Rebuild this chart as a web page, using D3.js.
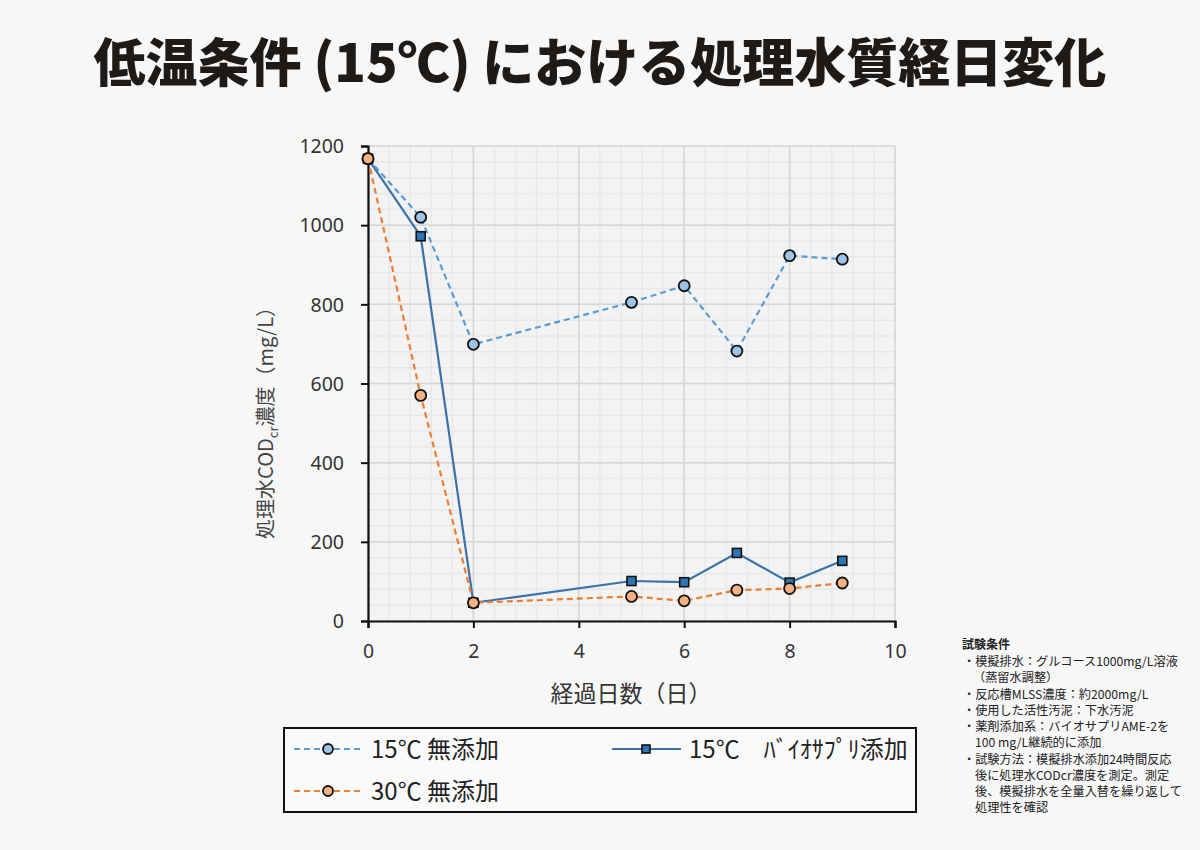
<!DOCTYPE html>
<html>
<head>
<meta charset="utf-8">
<script src="https://cdn.jsdelivr.net/npm/d3@7"></script>
<style>
  html, body { margin: 0; padding: 0; background: #f7f7f7; }
  svg { display: block; }
  text { font-family: "Noto Sans CJK JP", "Noto Sans", sans-serif; }
</style>
</head>
<body>
<div id="chart"></div>
<script>
// data
const days = [0, 1, 2, 5, 6, 7, 8, 9]
const noAdd15 = [1168, 1020, 699, 805, 847, 682, 923, 914]
const bioAdd15 = [1168, 972, 46, 101, 98, 172, 97, 152]
const noAdd30 = [1168, 570, 46, 62, 51, 78, 82, 96]

const xTicks = [0, 2, 4, 6, 8, 10]
const yTicks = [0, 200, 400, 600, 800, 1000, 1200]

const seriesNames = ['15℃ 無添加', '15℃\u3000ﾊﾞｲｵｻﾌﾟﾘ添加', '30℃ 無添加']

const title = '低温条件 (15℃) における処理水質経日変化'
const notes = [
  '試験条件',
  '・模擬排水：グルコース1000mg/L溶液',
  '（蒸留水調整）',
  '・反応槽MLSS濃度：約2000mg/L',
  '・使用した活性汚泥：下水汚泥',
  '・薬剤添加系：バイオサプリAME-2を',
  '100 mg/L継続的に添加',
  '・試験方法：模擬排水添加24時間反応',
  '後に処理水CODcr濃度を測定。測定',
  '後、模擬排水を全量入替を繰り返して',
  '処理性を確認'
]

const width = 1200, height = 850
const plot = {left: 368, right: 895, top: 146, bottom: 621}

const svg = d3.select('#chart').append('svg')
  .attr('width', width)
  .attr('height', height)

svg.append('rect').attr('width', width).attr('height', height).attr('fill', '#f7f7f7')

// title
svg.append('text')
  .attr('x', 600)
  .attr('y', 82)
  .attr('text-anchor', 'middle')
  .attr('font-size', 52)
  .attr('font-weight', 900)
  .attr('fill', '#1e1a18')
  .text(title)

const x = d3.scaleLinear().domain([0, 10]).range([plot.left, plot.right])
const y = d3.scaleLinear().domain([0, 1200]).range([plot.bottom, plot.top])

// plot background
svg.append('rect')
  .attr('x', plot.left).attr('y', plot.top)
  .attr('width', plot.right - plot.left).attr('height', plot.bottom - plot.top)
  .attr('fill', '#f3f3f3')
  .attr('stroke', '#e2e2e2')

const grid = svg.append('g')
// minor grid
grid.selectAll('.vminor').data(d3.range(0, 10.001, 0.4)).enter().append('line')
  .attr('x1', d => x(d)).attr('x2', d => x(d))
  .attr('y1', plot.top).attr('y2', plot.bottom)
  .attr('stroke', '#e8e8e8').attr('stroke-width', 1.5)
grid.selectAll('.hminor').data(d3.range(0, 1200.1, 40)).enter().append('line')
  .attr('y1', d => y(d)).attr('y2', d => y(d))
  .attr('x1', plot.left).attr('x2', plot.right)
  .attr('stroke', '#e8e8e8').attr('stroke-width', 1.5)
// major grid
grid.selectAll('.vmajor').data(xTicks).enter().append('line')
  .attr('x1', d => x(d)).attr('x2', d => x(d))
  .attr('y1', plot.top).attr('y2', plot.bottom)
  .attr('stroke', '#d6d6d6').attr('stroke-width', 1.5)
grid.selectAll('.hmajor').data(yTicks).enter().append('line')
  .attr('y1', d => y(d)).attr('y2', d => y(d))
  .attr('x1', plot.left).attr('x2', plot.right)
  .attr('stroke', '#d6d6d6').attr('stroke-width', 1.5)

// axes
const xAxis = svg.append('g')
  .attr('transform', `translate(0, ${plot.bottom})`)
  .call(d3.axisBottom(x).tickValues(xTicks).tickFormat(d3.format('d')).tickSize(7).tickPadding(16))
const yAxis = svg.append('g')
  .attr('transform', `translate(${plot.left}, 0)`)
  .call(d3.axisLeft(y).tickValues(yTicks).tickFormat(d3.format('d')).tickSize(7).tickPadding(17))
;[xAxis, yAxis].forEach(a => {
  a.select('.domain').attr('stroke', '#111').attr('stroke-width', 2.2)
  a.selectAll('.tick line').attr('stroke', '#111').attr('stroke-width', 2)
  a.selectAll('.tick text')
    .attr('font-size', 19.5)
    .attr('fill', '#333')
    .style('font-family', '"Noto Sans", "DejaVu Sans", sans-serif')
})
yAxis.selectAll('.tick text').attr('dy', '0.35em')

// axis titles
svg.append('text')
  .attr('x', 631).attr('y', 702)
  .attr('text-anchor', 'middle')
  .attr('font-size', 23)
  .attr('fill', '#333')
  .text('経過日数（日）')

const yLabel = svg.append('text')
  .attr('transform', 'translate(273, 418) rotate(-90)')
  .attr('text-anchor', 'middle')
  .attr('font-size', 20)
  .attr('fill', '#444')
yLabel.append('tspan').text('処理水COD')
yLabel.append('tspan').attr('font-size', 13).attr('dy', 5).text('cr')
yLabel.append('tspan').attr('dy', -5).text('濃度（mg/L）')

// series
const series = [
  {name: seriesNames[0], values: noAdd15, stroke: '#5b9bd5', fill: '#9dc3e6', dash: '6,4', marker: 'circle'},
  {name: seriesNames[1], values: bioAdd15, stroke: '#3a72aa', fill: '#2e75b6', dash: null, marker: 'square'},
  {name: seriesNames[2], values: noAdd30, stroke: '#ed7d31', fill: '#f4b183', dash: '6,4', marker: 'circle'}
]

const line = d3.line().x((d, i) => x(days[i])).y(d => y(d))

function drawMarker(g, type, fill, r) {
  if (type === 'circle') {
    g.append('circle').attr('r', r)
      .attr('fill', fill).attr('stroke', '#111').attr('stroke-width', 1.8)
  } else {
    g.append('rect').attr('x', -r + 1).attr('y', -r + 1).attr('width', 2 * r - 2).attr('height', 2 * r - 2)
      .attr('fill', fill).attr('stroke', '#111').attr('stroke-width', 1.6)
  }
}

const drawOrder = [series[1], series[0], series[2]]
drawOrder.forEach(s => {
  svg.append('path')
    .datum(s.values)
    .attr('d', line)
    .attr('fill', 'none')
    .attr('stroke', s.stroke)
    .attr('stroke-width', 2.2)
    .attr('stroke-dasharray', s.dash)
})
drawOrder.forEach(s => {
  s.values.forEach((v, i) => {
    const g = svg.append('g').attr('transform', `translate(${x(days[i])}, ${y(v)})`)
    drawMarker(g, s.marker, s.fill, 5.5)
  })
})

// legend
const legend = svg.append('g')
legend.append('rect')
  .attr('x', 284).attr('y', 728).attr('width', 632).attr('height', 84)
  .attr('fill', '#fafafa').attr('stroke', '#111').attr('stroke-width', 2)
const legendItems = [
  {s: series[0], x: 294, y: 749},
  {s: series[1], x: 612, y: 749},
  {s: series[2], x: 294, y: 791}
]
legendItems.forEach(item => {
  const g = legend.append('g').attr('transform', `translate(${item.x}, ${item.y})`)
  g.append('line').attr('x1', 0).attr('x2', 69).attr('y1', 0).attr('y2', 0)
    .attr('stroke', item.s.stroke).attr('stroke-width', 2.2)
    .attr('stroke-dasharray', item.s.dash ? '6,4' : null)
  const m = g.append('g').attr('transform', 'translate(34, 0)')
  drawMarker(m, item.s.marker, item.s.fill, 5)
  g.append('text').attr('x', 77).attr('y', 0).attr('dy', '0.36em')
    .attr('font-size', 24).attr('fill', '#222')
    .text(item.s.name)
})

// test conditions note
const noteY = [645, 662, 678, 695, 711, 727, 743, 760, 776, 792, 808]
const noteX = [962, 963, 973, 963, 963, 963, 975, 963, 975, 975, 975]
svg.append('g').selectAll('text').data(notes).enter().append('text')
  .attr('x', (d, i) => noteX[i])
  .attr('y', (d, i) => noteY[i])
  .attr('dy', '0.36em')
  .attr('font-size', (d, i) => i === 0 ? 12 : 12.2)
  .attr('font-weight', (d, i) => i === 0 ? 700 : 400)
  .attr('fill', '#222')
  .text(d => d)
</script>
</body>
</html>
